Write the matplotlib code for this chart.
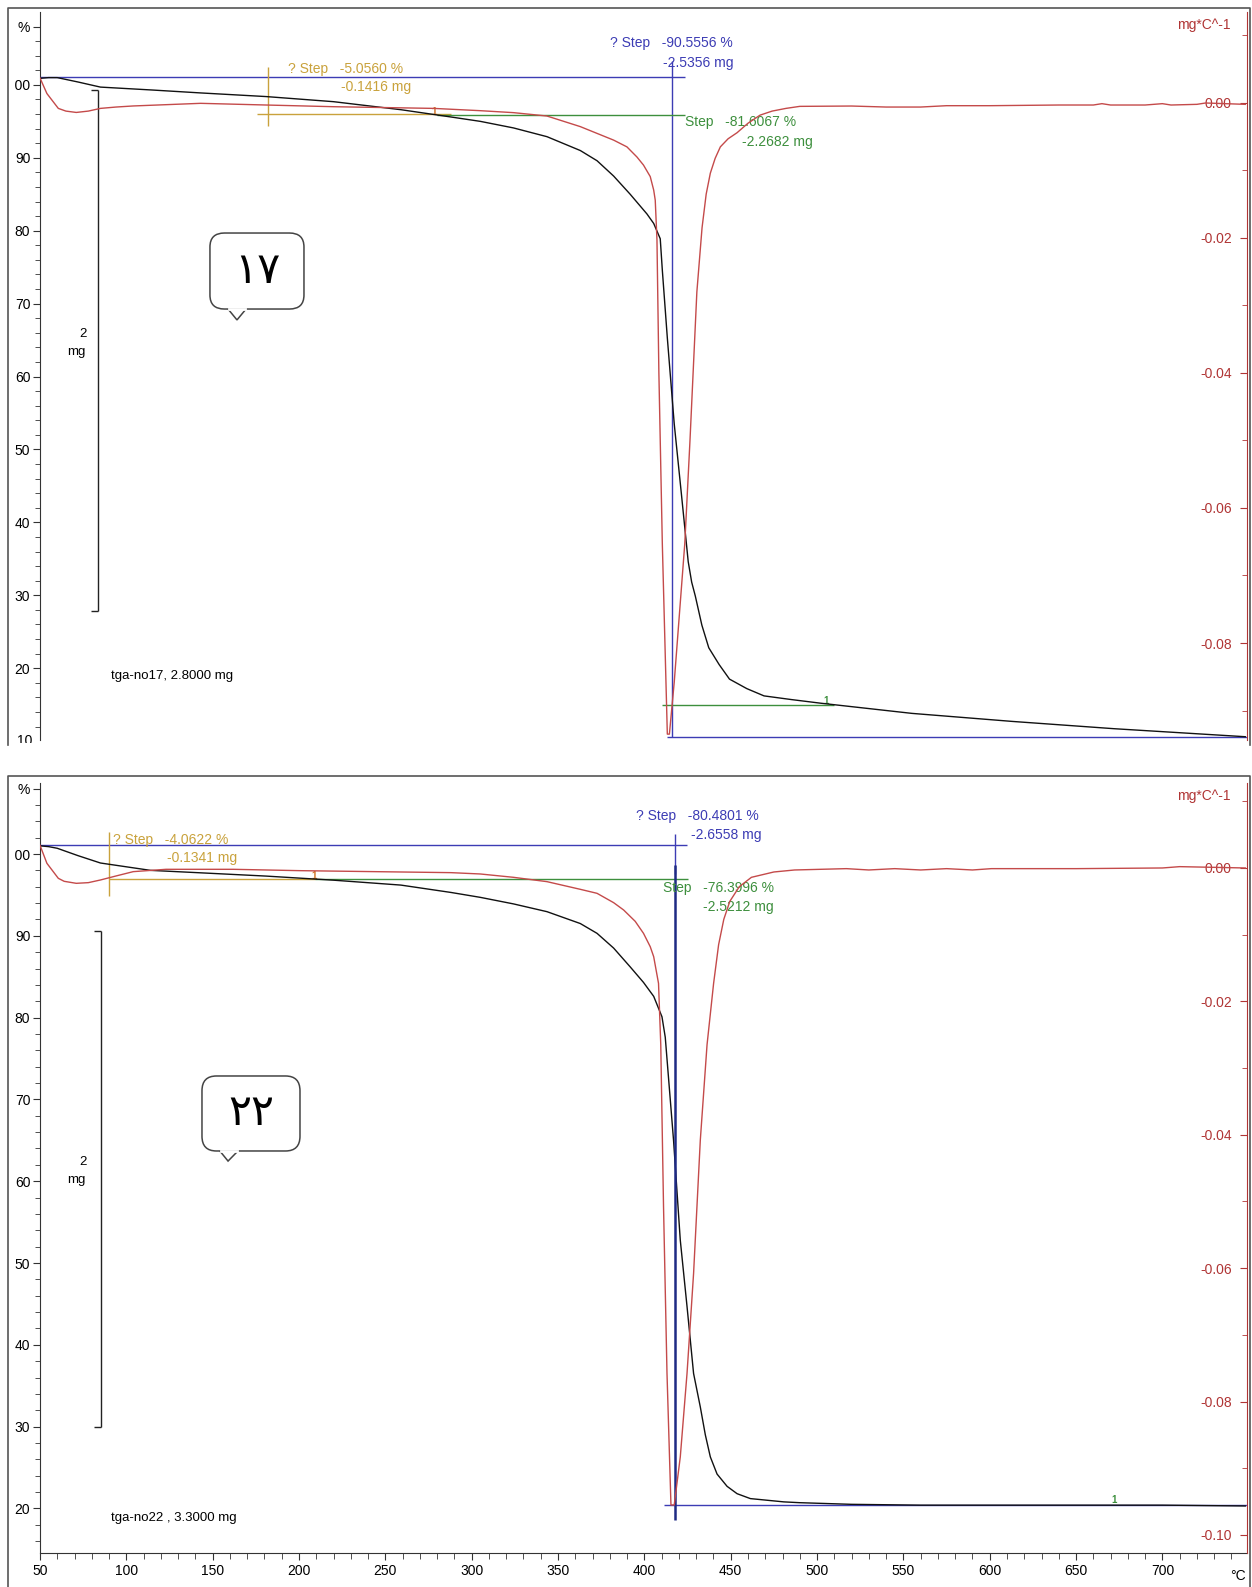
import matplotlib
matplotlib.use("Agg")
import matplotlib.pyplot as plt
from matplotlib.patches import FancyBboxPatch, Polygon
from matplotlib.lines import Line2D
import numpy as np

plt.rcParams['font.family'] = ['Liberation Sans Narrow', 'Liberation Sans', 'DejaVu Sans']

BLACK = '#111111'
RED = '#c44a4a'
RED_AX = '#b03535'
BLUE = '#3c3cb4'
NAVY = '#1e2a84'
GREEN = '#3d8f3d'
GOLD = '#c9a23c'
FRAME = '#555555'

# ---------------- sample no17 ----------------
temp17 = [50, 55, 60, 72, 85, 100, 115, 143, 181, 220, 259, 288, 305, 324.2, 343.6, 362.9, 372.6,
          382.2, 391.8, 401.5, 405.4, 409.2, 410.4, 413.3, 417.3, 421.4, 425.4, 427.4, 429.5, 433.3,
          437.3, 443.3, 449.3, 459.3, 469.3, 485, 502, 555, 613, 672, 748]
tga17 = [100.9, 101.0, 101.0, 100.4, 99.7, 99.5, 99.3, 98.9, 98.4, 97.7, 96.6, 95.6, 95.0, 94.1,
         92.9, 91.0, 89.6, 87.5, 85.0, 82.3, 81.0, 78.9, 74.6, 65.3, 53.5, 44.0, 34.6, 31.8, 29.9,
         25.9, 22.8, 20.5, 18.5, 17.2, 16.2, 15.7, 15.2, 13.8, 12.7, 11.7, 10.6]
dtemp17 = [50, 54, 60.6, 65, 71, 78, 85, 94, 104, 143, 181, 220, 278, 305, 324.2, 343.6, 362.9,
           382.2, 389.9, 395.7, 399.5, 403.4, 405.4, 406.3, 407.3, 408.4, 410.4, 413.3, 414.5, 417.3,
           423.4, 426.4, 430.4, 433.4, 435.8, 438.2, 441, 444, 448.5, 453.7, 460, 467, 474, 482, 490,
           520, 540, 560, 575, 600, 640, 660, 665, 670, 690, 700, 705, 720, 725, 748]
dtg17 = [0.0037, 0.0014, -0.0008, -0.0012, -0.0014, -0.0012, -0.0008, -0.0006, -0.00044, -0.00005,
         -0.0003, -0.00055, -0.0008, -0.00114, -0.00143, -0.00193, -0.0035, -0.0055, -0.0065, -0.0080,
         -0.0092, -0.0109, -0.0129, -0.0144, -0.0203, -0.0399, -0.0653, -0.0935, -0.0935, -0.0858,
         -0.0653, -0.0501, -0.0280, -0.0185, -0.0135, -0.0104, -0.0082, -0.0065, -0.0053, -0.0044,
         -0.0030, -0.0018, -0.0012, -0.0008, -0.0005, -0.00045, -0.0006, -0.0006, -0.0004, -0.0004,
         -0.0003, -0.0003, -0.0001, -0.0003, -0.0003, -0.0001, -0.0003, -0.0002, 0.0, -0.0002]
name17 = 'tga-no17, 2.8000 mg'
mass17 = 2.8
step17_small = ('-5.0560', '-0.1416')
step17_total = ('-90.5556', '-2.5356')
step17_main = ('-81.6067', '-2.2682')

# ---------------- sample no22 ----------------
temp22 = [50, 55, 60, 72, 85, 114, 143, 181, 220, 259, 288, 305, 324.2, 343.6, 362.9, 372.6, 382.2,
          391.8, 399.5, 405.4, 410.2, 412.1, 416.9, 420.8, 424.7, 428.5, 432.4, 435.3, 438.2, 442.1,
          447.9, 453.7, 461.4, 480.7, 490, 520, 560, 600, 650, 700, 748]
tga22 = [101.0, 100.9, 100.7, 99.8, 98.9, 98.0, 97.7, 97.3, 96.8, 96.2, 95.3, 94.7, 93.9, 92.95,
         91.5, 90.3, 88.5, 86.2, 84.3, 82.6, 80.1, 77.6, 65.0, 52.8, 44.7, 36.5, 32.4, 29.0, 26.3,
         24.2, 22.7, 21.8, 21.2, 20.8, 20.7, 20.5, 20.4, 20.4, 20.4, 20.4, 20.3]
dtemp22 = [50, 54, 60.6, 64, 71, 78, 85, 94, 104, 123, 162, 200, 288, 305, 324.2, 343.6, 362.9,
           372.6, 382.2, 388, 394.7, 399.5, 403.4, 405.4, 408.2, 409.5, 411.1, 413.1, 415.4, 417.3,
           420.8, 424.7, 428.5, 432.4, 436.3, 440.1, 443, 446, 449.5, 455, 462, 475, 487, 517, 530,
           545, 560, 575, 590, 601, 650, 700, 710, 748]
dtg22 = [0.0034, 0.0007, -0.00155, -0.0020, -0.0023, -0.0022, -0.0018, -0.0012, -0.00055, -0.0002,
         -0.0002, -0.0004, -0.0007, -0.0009, -0.0014, -0.00205, -0.0032, -0.0038, -0.0052, -0.0063,
         -0.0080, -0.0098, -0.0118, -0.0133, -0.0173, -0.0265, -0.0508, -0.0757, -0.0955, -0.0955,
         -0.0883, -0.0758, -0.0608, -0.0408, -0.0265, -0.0173, -0.0115, -0.0077, -0.0050, -0.0028,
         -0.0014, -0.0006, -0.0003, -0.0001, -0.0003, -0.0001, -0.0003, -0.0001, -0.0003, -0.0001,
         -0.0001, 0.0, 0.0002, 0.0]
name22 = 'tga-no22 , 3.3000 mg'
mass22 = 3.3
step22_small = ('-4.0622', '-0.1341')
step22_total = ('-80.4801', '-2.6558')
step22_main = ('-76.3996', '-2.5212')

XMIN, XMAX = 50, 749
W, H = 1252, 1587
fig = plt.figure(figsize=(W / 100, H / 100), dpi=100)


def make_panel(box, ylim, y2lim, temp, tga, dtemp, dtg, dtg_major, show_x):
    x0, y0, x1, y1 = box
    ax = fig.add_axes([x0 / W, 1 - y1 / H, (x1 - x0) / W, (y1 - y0) / H])
    ax.plot(temp, tga, color=BLACK, lw=1.0, zorder=4)
    ax.set_xlim(XMIN, XMAX)
    ax.set_ylim(*ylim)
    for s in ['top', 'right']:
        ax.spines[s].set_visible(False)
    ax.spines['left'].set_color('#333333')
    ax.spines['bottom'].set_color('#333333')
    yt = [v for v in range(10, 101, 10) if v >= ylim[0]] + [108]
    ax.set_yticks(yt, labels=[str(v) for v in yt[:-1]] + ['%'])
    ax.set_yticks([v for v in range(10, 110, 2) if v >= ylim[0]], minor=True)
    ax.tick_params(axis='y', which='major', length=5, pad=2, labelsize=10, color='#333333')
    ax.tick_params(axis='y', which='minor', length=3.5, color='#333333')
    if show_x:
        ax.set_xticks(range(50, 701, 50))
        ax.set_xticks(range(50, 741, 10), minor=True)
        ax.tick_params(axis='x', which='major', length=5, pad=3, labelsize=10, color='#333333')
        ax.tick_params(axis='x', which='minor', length=4, color='#333333')
        ax.text(744, -0.03, '°C', transform=ax.get_xaxis_transform(), ha='center', va='center',
                fontsize=10)
    else:
        ax.spines['bottom'].set_visible(False)
        ax.set_xticks([])
        # the 10 % label sits on the cut edge of the panel
        ax.annotate('10', xy=(0, 10), xycoords=('axes fraction', 'data'), xytext=(-5.5, 0),
                    textcoords='offset points', ha='right', va='center', fontsize=10,
                    annotation_clip=False)

    ax2 = ax.twinx()
    ax2.plot(dtemp, dtg, color=RED, lw=1.0)
    ax2.set_ylim(*y2lim)
    for s in ['top', 'left', 'bottom']:
        ax2.spines[s].set_visible(False)
    ax2.spines['right'].set_color(RED_AX)
    ax2.set_yticks(dtg_major, labels=[f'{v:.2f}' for v in dtg_major])
    minor = [round(v, 2) for v in np.arange(0.01, y2lim[0], -0.02)]
    ax2.set_yticks(minor, minor=True)
    ax2.tick_params(axis='y', which='major', direction='in', length=5, pad=-11,
                    colors=RED_AX, labelsize=10)
    ax2.tick_params(axis='y', which='minor', direction='in', length=3.5, colors=RED_AX)
    for lab in ax2.get_yticklabels():
        lab.set_horizontalalignment('right')
    ax2.text(0.986, 0.992, 'mg*C^-1', transform=ax2.transAxes, ha='right', va='top',
             color=RED_AX, fontsize=10)
    return ax, ax2


def bubble(ax, left, right, bottom, top, tip, base, label):
    box = FancyBboxPatch((left, bottom), right - left, top - bottom,
                         boxstyle='round,pad=0,rounding_size=0.012', mutation_aspect=1.6,
                         transform=ax.transAxes, facecolor='white', edgecolor='#444444',
                         lw=1.1, zorder=6)
    ax.add_patch(box)
    ax.add_patch(Polygon([(base[0], bottom), tip, (base[1], bottom)], closed=False,
                         transform=ax.transAxes, facecolor='white', edgecolor='#444444',
                         lw=1.1, zorder=6))
    ax.plot([base[0] + 0.001, base[1] - 0.001], [bottom, bottom], transform=ax.transAxes,
            color='white', lw=2, zorder=7)
    ax.text((left + right) / 2, (bottom + top) / 2, label, transform=ax.transAxes,
            ha='center', va='center', fontsize=31, family='DejaVu Sans', zorder=8)


def step_text(ax, x1, y1, line1, x2, y2, line2, color):
    ax.text(x1, y1, line1, color=color, fontsize=10, ha='left', va='center', zorder=5)
    ax.text(x2, y2, line2, color=color, fontsize=10, ha='left', va='center', zorder=5)


# ---------------- top panel ----------------
ax, ax2 = make_panel((40, 12, 1247, 740), (10.15, 110.0), (-0.09437, 0.01348),
                     temp17, tga17, dtemp17, dtg17, [0.0, -0.02, -0.04, -0.06, -0.08], False)
ax.hlines(101.1, 50, 423.7, color=BLUE, lw=1.0, zorder=3)
ax.vlines(416.2, 10.6, 103.3, color=BLUE, lw=1.0, zorder=3)
ax.hlines(10.6, 413, XMAX, color=BLUE, lw=1.0, zorder=3)
ax.vlines(182, 94.3, 102.5, color=GOLD, lw=1.0, zorder=3)
ax.hlines(96.0, 175.5, 288, color=GOLD, lw=1.0, zorder=3)
ax.hlines(95.9, 280, 423.7, color=GREEN, lw=1.0, zorder=3)
ax.hlines(15.0, 410, 510, color=GREEN, lw=1.0, zorder=3)
step_text(ax, 193.7, 102.2, '? Step   ' + step17_small[0] + ' %', 224.4, 99.7,
          step17_small[1] + ' mg', GOLD)
step_text(ax, 380.3, 105.7, '? Step   ' + step17_total[0] + ' %', 411, 103.0,
          step17_total[1] + ' mg', BLUE)
step_text(ax, 423.7, 94.9, 'Step   ' + step17_main[0] + ' %', 456.7, 92.2,
          step17_main[1] + ' mg', GREEN)
ax.text(278, 96.3, '1', color='#d07020', fontsize=7, fontweight='bold', ha='center', va='center')
ax.text(505, 15.5, '1', color=GREEN, fontsize=7, fontweight='bold', ha='center', va='center')
# 2 mg scale bar
top17 = 99.3
ax.vlines(83.6, top17 - 200 / mass17, top17, color='#222222', lw=1.0)
ax.hlines([top17, top17 - 200 / mass17], 79.6, 83.6, color='#222222', lw=1.0)
ax.text(75, 65.8, '2', fontsize=9.5, ha='center', va='center')
ax.text(71, 63.4, 'mg', fontsize=9.5, ha='center', va='center')
ax.text(91, 18.9, name17, fontsize=9.5, ha='left', va='center')
bubble(ax, 0.1408, 0.2187, 0.592, 0.6964, (0.1632, 0.577), (0.1558, 0.1707), '١٧')

# ---------------- bottom panel ----------------
ax, ax2 = make_panel((40, 783, 1247, 1553), (14.55, 108.68), (-0.1027, 0.01274),
                     temp22, tga22, dtemp22, dtg22, [0.0, -0.02, -0.04, -0.06, -0.08, -0.10], True)
ax.hlines(101.1, 50, 424.9, color=BLUE, lw=1.0, zorder=3)
ax.vlines(417.9, 97.5, 102.5, color=BLUE, lw=1.0, zorder=3)
ax.vlines(417.9, 18.6, 98.7, color=NAVY, lw=1.8, zorder=5)
ax.hlines(20.4, 411.5, XMAX, color=BLUE, lw=1.0, zorder=3)
ax.vlines(90, 94.9, 102.7, color=GOLD, lw=1.0, zorder=3)
ax.hlines(97.0, 90, 209, color=GOLD, lw=1.0, zorder=3)
ax.hlines(96.9, 209, 425.5, color=GREEN, lw=1.0, zorder=3)
step_text(ax, 92.3, 101.7, '? Step   ' + step22_small[0] + ' %', 123.6, 99.5,
          step22_small[1] + ' mg', GOLD)
step_text(ax, 395.3, 104.7, '? Step   ' + step22_total[0] + ' %', 427.2, 102.3,
          step22_total[1] + ' mg', BLUE)
step_text(ax, 411, 95.9, 'Step   ' + step22_main[0] + ' %', 434.2, 93.5,
          step22_main[1] + ' mg', GREEN)
ax.text(209, 97.3, '1', color='#d07020', fontsize=7, fontweight='bold', ha='center', va='center')
ax.text(672, 21.0, '1', color=GREEN, fontsize=7, fontweight='bold', ha='center', va='center')
top22 = 90.6
ax.vlines(85.3, top22 - 200 / mass22, top22, color='#222222', lw=1.0)
ax.hlines([top22, top22 - 200 / mass22], 81.3, 85.3, color='#222222', lw=1.0)
ax.text(75, 62.3, '2', fontsize=9.5, ha='center', va='center')
ax.text(71, 60.1, 'mg', fontsize=9.5, ha='center', va='center')
ax.text(91, 18.8, name22, fontsize=9.5, ha='left', va='center')
bubble(ax, 0.1342, 0.2154, 0.5221, 0.6195, (0.1558, 0.509), (0.149, 0.164), '٢٢')

# white margins (the original is cropped: leading "1" of 100 and lower half of "10" are cut)
fig.add_artist(plt.Rectangle((0, 0), 14 / W, 1, transform=fig.transFigure, facecolor='white',
                             edgecolor='none', zorder=20))
fig.add_artist(plt.Rectangle((0, 1 - 775 / H), 1, 32 / H, transform=fig.transFigure,
                             facecolor='white', edgecolor='none', zorder=20))
for ya, yb in [(8, 745), (776, 1587)]:
    xs = [8 / W, 8 / W, 1250 / W, 1250 / W]
    ys = [1 - yb / H, 1 - ya / H, 1 - ya / H, 1 - yb / H]
    fig.add_artist(Line2D(xs, ys, transform=fig.transFigure, color=FRAME, lw=1.2, zorder=21))

fig.savefig('out.png', dpi=100)
